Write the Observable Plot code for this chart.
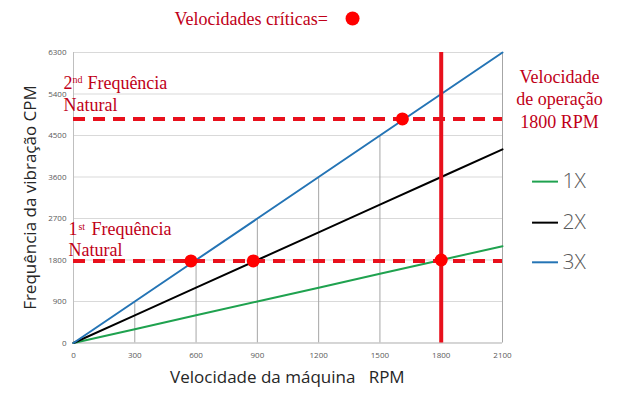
<!DOCTYPE html>
<html>
<head>
<meta charset="utf-8">
<script src="https://cdn.jsdelivr.net/npm/d3@7"></script>
<script src="https://cdn.jsdelivr.net/npm/@observablehq/plot@0.6"></script>
<style>
  html, body { margin: 0; padding: 0; background: #ffffff; }
  #chart svg { display: block; }
</style>
</head>
<body>
<div id="chart"></div>
<script>
// ---- data ----
const rpm    = [0, 300, 600, 900, 1200, 1500, 1800, 2100];
const cpm1X  = [0, 300, 600, 900, 1200, 1500, 1800, 2100];
const cpm2X  = [0, 600, 1200, 1800, 2400, 3000, 3600, 4200];
const cpm3X  = [0, 900, 1800, 2700, 3600, 4500, 5400, 6300];
const seriesNames  = ["1X", "2X", "3X"];
const seriesColors = ["#1fa24f", "#000000", "#2474b5"];
const xTicks = [0, 300, 600, 900, 1200, 1500, 1800, 2100];
const yTicks = [0, 900, 1800, 2700, 3600, 4500, 5400, 6300];

const naturalFreqCpm = [1780, 4860];   // 1st and 2nd natural frequency
const operatingRpm   = [1800];         // operating speed
const criticalRpm    = [575, 880, 1800, 1610];
const criticalCpm    = [1780, 1780, 1800, 4860];

// annotation texts (positions in data units)
const redTexts = [
  {t: "Velocidades críticas=", x: 494,  y: 6907},
  {t: "2",          x: -49,  y: 5519},
  {t: "Frequência", x: 68,   y: 5519},
  {t: "Natural",    x: -49,  y: 5042},
  {t: "1",          x: -24,  y: 2353},
  {t: "Frequência", x: 88,   y: 2353},
  {t: "Natural",    x: -24,  y: 1876}
];
const supTexts = [
  {t: "nd", x: -5, y: 5628},
  {t: "st", x: 24, y: 2461}
];
const opTexts = [
  {t: "Velocidade",  x: 2379, y: 5628},
  {t: "de operação", x: 2379, y: 5151},
  {t: "1800 RPM",    x: 2379, y: 4652}
];
const titleDot = [{x: 1366, y: 7037}];
const legendCpm = [3500, 2610, 1750];
const legendX1 = 2247, legendX2 = 2374, legendTextX = 2394;
const xTitle = {t: "Velocidade da máquina\u00a0\u00a0 RPM", x: 1047, y: -857};
const yTitle = {t: "Frequência da vibração CPM", x: -210, y: 3155};

// ---- tables ----
const cols = [cpm1X, cpm2X, cpm3X];
const lines = [];
seriesNames.forEach((s, i) => rpm.forEach((r, j) => lines.push({series: s, rpm: r, cpm: cols[i][j]})));
const drops = rpm.map((r, j) => ({rpm: r, top: cpm3X[j]}));
const crit = criticalRpm.map((r, i) => ({rpm: r, cpm: criticalCpm[i]}));
const legend = seriesNames.map((s, i) => ({series: s, y: legendCpm[i], color: seriesColors[i]}));

const red = "#c00018";
const lineRed = "#e8101c";
const plain = d3.format("d");

const chart = Plot.plot({
  width: 623,
  height: 405,
  marginLeft: 73,
  marginRight: 121,
  marginTop: 52,
  marginBottom: 62.5,
  style: {background: "#ffffff", overflow: "visible"},
  x: {domain: [0, 2100], label: null},
  y: {domain: [0, 6300], label: null},
  color: {domain: seriesNames, range: seriesColors},
  marks: [
    Plot.gridY(yTicks, {stroke: "#d9d9d9", strokeOpacity: 1, strokeWidth: 1}),
    Plot.ruleX(drops, {x: "rpm", y1: 0, y2: "top", stroke: "#a6a6a6", strokeWidth: 1}),
    Plot.ruleX([0], {stroke: "#bfbfbf"}),
    Plot.ruleY([0], {stroke: "#bfbfbf"}),
    Plot.axisX({ticks: xTicks, tickFormat: plain, tickSize: 0, tickPadding: 9, fontSize: 8, fill: "#595959", fontFamily: "Open Sans", label: null}),
    Plot.axisY({ticks: yTicks, tickFormat: plain, tickSize: 0, tickPadding: 7, fontSize: 8, fill: "#595959", fontFamily: "Open Sans", label: null}),
    Plot.line(lines, {x: "rpm", y: "cpm", z: "series", stroke: "series", strokeWidth: 2}),
    Plot.ruleY(naturalFreqCpm, {x1: 0, x2: 2100, stroke: lineRed, strokeWidth: 4, strokeDasharray: "12,8"}),
    Plot.ruleX(operatingRpm, {y1: 0, y2: 6300, stroke: lineRed, strokeWidth: 4}),
    Plot.dot(crit, {x: "rpm", y: "cpm", r: 6.5, fill: "#ff0000", stroke: "none"}),
    Plot.dot(titleDot, {x: "x", y: "y", r: 7, fill: "#ff0000", stroke: "none"}),
    Plot.text(redTexts, {x: "x", y: "y", text: "t", textAnchor: "start", lineAnchor: "bottom", fontSize: 18, fontFamily: "Liberation Serif", fill: red}),
    Plot.text(supTexts, {x: "x", y: "y", text: "t", textAnchor: "start", lineAnchor: "bottom", fontSize: 10, fontFamily: "Liberation Serif", fill: red}),
    Plot.text(opTexts, {x: "x", y: "y", text: "t", textAnchor: "middle", lineAnchor: "bottom", fontSize: 18, fontFamily: "Liberation Serif", fill: red}),
    Plot.ruleY(legend, {y: "y", x1: legendX1, x2: legendX2, stroke: "color", strokeWidth: 2}),
    Plot.text(legend, {x: legendTextX, y: "y", text: "series", textAnchor: "start", lineAnchor: "middle", fontSize: 21, fontFamily: "Open Sans", fontWeight: 300, fill: "#595959"}),
    Plot.text([xTitle], {x: "x", y: "y", text: "t", textAnchor: "middle", lineAnchor: "bottom", fontSize: 17, fontFamily: "Open Sans", fill: "#262626"}),
    Plot.text([yTitle], {x: "x", y: "y", text: "t", rotate: -90, textAnchor: "middle", lineAnchor: "middle", fontSize: 17, fontFamily: "Open Sans", fill: "#262626"})
  ]
});
document.getElementById("chart").appendChild(chart);
</script>
</body>
</html>
